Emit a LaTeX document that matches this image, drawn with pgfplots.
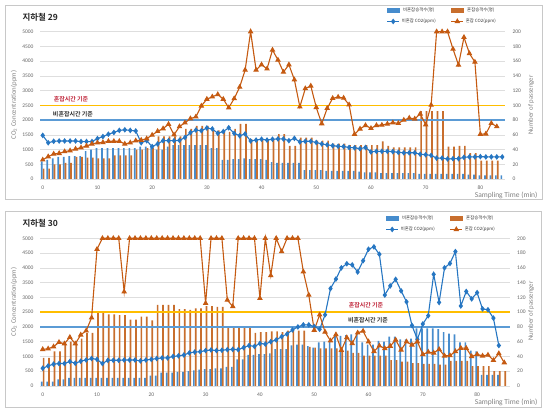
\documentclass[border=0pt]{standalone}
\usepackage{pgfplots}
\pgfplotsset{compat=1.18}
\usepackage{pgfplotstable}
\usepackage{fontspec}
\setmainfont{Carlito}
\newfontfamily\kr{Noto Sans CJK KR}[BoldFont={Noto Sans CJK KR Bold}]
\definecolor{lnblue}{RGB}{38,118,194}
\definecolor{lnorange}{RGB}{197,90,17}
\definecolor{barblue}{RGB}{70,140,205}
\definecolor{barorange}{RGB}{200,110,45}
\definecolor{refyellow}{RGB}{255,190,0}
\definecolor{refblue}{RGB}{91,155,213}
\definecolor{gridgray}{RGB}{222,222,222}
\definecolor{ticklab}{RGB}{100,100,100}
\definecolor{labgray}{RGB}{128,128,128}
\definecolor{framegray}{RGB}{200,200,200}
\definecolor{annred}{RGB}{192,40,60}
\definecolor{anndark}{RGB}{50,50,50}

\pgfplotstableread{
t nb cb nc cc
0 24 14 1480 650
1 26 14 1230 760
2 28 20 1280 850
3 30 20 1290 870
4 30 22 1290 930
5 31 22 1290 960
6 31 30 1290 1020
7 31 30 1270 1060
8 38 29 1270 1120
9 40 29 1270 1190
10 42 28 1370 1230
11 42 28 1440 1240
12 42 28 1520 1280
13 42 32 1580 1280
14 42 32 1650 1280
15 42 32 1670 1190
16 42 32 1650 1230
17 42 40 1630 1300
18 44 40 1230 1320
19 44 42 1300 1370
20 44 42 1100 1490
21 40 58 1190 1620
22 40 58 1300 1710
23 44 58 1300 1860
24 46 58 1300 1500
25 46 58 1310 1780
26 46 68 1410 1910
27 46 68 1570 2050
28 46 72 1660 2110
29 46 72 1640 2480
30 46 72 1730 2710
31 42 66 1700 2790
32 42 66 1550 2870
33 26 64 1610 2710
34 26 64 1740 2420
35 27 68 1550 2730
36 27 75 1470 3120
37 28 75 1530 3700
38 27 54 1290 5000
39 27 54 1320 3700
40 27 54 1350 3880
41 26 54 1320 3740
42 23 54 1350 4380
43 22 61 1360 4040
44 22 61 1360 3630
45 22 45 1300 3880
46 22 45 1380 3370
47 22 56 1260 2450
48 12 56 1280 3070
49 12 56 1280 3160
50 12 52 1240 2430
51 12 52 1190 1880
52 11 52 1160 2400
53 11 48 1130 2740
54 11 48 1110 2780
55 11 48 1100 2750
56 11 46 1070 2520
57 11 46 1060 1520
58 10 46 1030 1700
59 9 46 1070 1820
60 9 46 920 1720
61 9 46 940 1820
62 8 51 940 1830
63 8 45 940 1870
64 8 43 930 1910
65 8 43 905 1890
66 8 43 890 2000
67 8 43 890 2070
68 8 43 890 2040
69 7 92 840 2210
70 7 92 825 1840
71 7 92 800 2510
72 7 92 710 5000
73 7 92 710 5000
74 7 44 680 5000
75 7 44 690 4410
76 7 45 690 3870
77 7 45 735 4810
78 6 35 750 4260
79 6 35 750 3970
80 5 25 760 1520
81 5 25 750 1530
82 5 25 750 1890
83 5 25 750 1780
84 5 nan 750 nan
}\topdata

\pgfplotstableread{
t nb cb nc cc
0 6 38 600 1240
1 6 38 680 1260
2 6 47 740 1330
3 9 47 760 1480
4 9 56 760 1430
5 11 60 830 1650
6 11 60 770 1430
7 11 64 840 1730
8 11 72 880 1870
9 11 72 930 2310
10 11 100 900 4630
11 11 100 760 5000
12 11 97 870 5000
13 11 97 870 5000
14 11 96 870 5000
15 11 96 880 3190
16 11 90 880 5000
17 11 90 880 5000
18 11 94 850 5000
19 11 94 880 5000
20 14 89 900 5000
21 14 110 930 5000
22 18 110 950 5000
23 18 110 950 5000
24 18 110 1000 5000
25 19 104 1020 5000
26 19 104 1050 5000
27 20 103 1120 5000
28 21 105 1150 5000
29 22 105 1160 5000
30 23 108 1200 2800
31 23 108 1220 5000
32 24 107 1200 5000
33 24 107 1210 5000
34 26 80 1230 2910
35 26 80 1240 2690
36 36 80 1230 5000
37 36 80 1300 5000
38 42 80 1370 5000
39 42 72 1340 5000
40 43 73 1440 2970
41 43 73 1420 5000
42 44 74 1500 3740
43 50 74 1560 5000
44 50 73 1670 4550
45 50 75 1760 5000
46 55 75 1900 5000
47 56 75 2000 5000
48 56 75 2070 3870
49 54 53 2070 3080
50 52 52 2010 1890
51 59 51 1920 2410
52 60 51 2410 1830
53 62 51 3300 1530
54 68 51 3620 1740
55 68 48 4000 1210
56 69 48 4140 1640
57 70 45 4100 1440
58 72 45 3860 1800
59 59 41 4240 1860
60 56 41 4630 1500
61 56 41 4710 1170
62 61 41 4460 1360
63 60 41 3080 1270
64 67 35 3390 1350
65 67 35 3610 1560
66 63 33 3220 1220
67 63 33 2850 1500
68 64 31 2050 1390
69 78 31 1580 1500
70 78 30 2100 1070
71 78 30 2380 1150
72 78 30 3780 1120
73 77 29 2830 1240
74 73 29 4000 1020
75 71 34 4150 1030
76 70 34 4550 1170
77 59 34 2710 1280
78 59 34 3200 1280
79 48 27 2950 1000
80 47 27 3160 1070
81 15 27 2610 1020
82 15 27 2580 1050
83 15 20 2300 870
84 15 20 1370 1100
85 nan 20 nan 790
}\botdata

\pgfplotsset{
  barax/.style={
    scale only axis, xmin=-0.5,
    ymin=0, ymax=200, ytick={0,20,...,200},
    axis y line*=right, axis x line*=bottom,
    axis line style={draw=none},
    major tick length=0pt,
    ymajorgrids, grid style={gridgray, line width=0.6pt},
    xtick={0,10,...,80},
    tick label style={font=\fontsize{5.5}{6.5}\selectfont, text=ticklab},
    /pgf/number format/assume math mode=true,
    /pgf/number format/1000 sep={},
    yticklabel style={xshift=4pt},
    xticklabel style={yshift=-3.5pt},
  },
  lineax/.style={
    scale only axis, xmin=-0.5,
    ymin=0, ymax=5000, ytick={0,500,...,5000},
    axis y line*=left, hide x axis,
    axis line style={draw=none},
    major tick length=0pt,
    clip=false,
    tick label style={font=\fontsize{5.5}{6.5}\selectfont, text=ticklab},
    /pgf/number format/assume math mode=true,
    /pgf/number format/1000 sep={},
    yticklabel style={xshift=-3pt},
    legend columns=2,
    legend style={draw=none, fill=none, font=\kr\fontsize{4.4}{5}\selectfont, text=anndark,
      /tikz/every even column/.append style={column sep=13pt}, row sep=2pt, inner sep=0pt},
    legend image code/.code={\draw[mark repeat=2,mark phase=2,##1] plot coordinates {(0pt,0pt) (6pt,0pt) (12pt,0pt)};},
  },
  bluebarleg/.style={legend image code/.code={\fill[barblue] (0pt,-1.6pt) rectangle (12pt,1.6pt);}},
  orangebarleg/.style={legend image code/.code={\fill[barorange] (0pt,-1.6pt) rectangle (12pt,1.6pt);}},
  blueln/.style={lnblue, line width=1.1pt, mark=diamond*, mark size=2pt, mark options={solid, fill=lnblue}},
  orangeln/.style={lnorange, line width=1.1pt, mark=triangle*, mark size=2.2pt, mark options={solid, fill=lnorange}},
}

\begin{document}
\begin{tikzpicture}
\path[use as bounding box] (0pt,0pt) rectangle (550pt,414pt);
\draw[framegray, line width=0.8pt] (5pt,215pt) rectangle (542pt,409pt);
\draw[framegray, line width=0.8pt] (5pt,7pt) rectangle (541pt,203pt);

% ---------- top panel ----------
\begin{axis}[barax, at={(40pt,235pt)}, anchor=south west, width=465pt, height=147.3pt, xmax=84.5]
\addplot[ybar, bar width=1.7pt, bar shift=-0.9pt, fill=barblue, draw=none] table[x=t,y=nb]{\topdata};
\addplot[ybar, bar width=1.7pt, bar shift=0.9pt, fill=barorange, draw=none] table[x=t,y=cb]{\topdata};
\end{axis}
\begin{axis}[lineax, at={(40pt,235pt)}, anchor=south west, width=465pt, height=147.3pt, xmax=84.5,
  legend style={at={(0.985,1.178)}, anchor=north east}]
\addplot[forget plot, refyellow, line width=1.6pt] coordinates {(-0.5,2500) (84.5,2500)};
\addplot[forget plot, refblue, line width=1.5pt] coordinates {(-0.5,2000) (84.5,2000)};
\addlegendimage{bluebarleg}\addlegendentry{비혼잡승객수(명)}
\addlegendimage{orangebarleg}\addlegendentry{혼잡승객수(명)}
\addplot[blueln] table[x=t,y=nc]{\topdata};\addlegendentry{비혼잡 CO2(ppm)}
\addplot[orangeln] table[x=t,y=cc]{\topdata};\addlegendentry{혼잡 CO2(ppm)}
\end{axis}
\node[anchor=west, font=\kr\bfseries\fontsize{8.5}{10}\selectfont, text=black!85] at (19pt,397pt) {지하철 29};
\node[rotate=90, font=\fontsize{6.8}{8}\selectfont, text=labgray] at (14pt,309pt) {CO\textsubscript{2} Concentration(ppm)};
\node[rotate=90, font=\fontsize{6.8}{8}\selectfont, text=labgray] at (531pt,309pt) {Number of passenger};
\node[anchor=east, font=\fontsize{7.5}{9}\selectfont, text=labgray] at (541pt,219pt) {Sampling Time (min)};
\node[font=\kr\bfseries\fontsize{6}{7}\selectfont, text=annred] at (71pt,315pt) {혼잡시간 기준};
\node[font=\kr\bfseries\fontsize{6}{7}\selectfont, text=anndark] at (73pt,299.7pt) {비혼잡시간 기준};

% ---------- bottom panel ----------
\begin{axis}[barax, at={(40pt,28pt)}, anchor=south west, width=469.7pt, height=147.7pt, xmax=86]
\addplot[ybar, bar width=1.7pt, bar shift=-0.9pt, fill=barblue, draw=none] table[x=t,y=nb]{\botdata};
\addplot[ybar, bar width=1.7pt, bar shift=0.9pt, fill=barorange, draw=none] table[x=t,y=cb]{\botdata};
\end{axis}
\begin{axis}[lineax, at={(40pt,28pt)}, anchor=south west, width=469.7pt, height=147.7pt, xmax=86,
  legend style={at={(0.973,1.168)}, anchor=north east}]
\addplot[forget plot, refyellow, line width=1.6pt] coordinates {(-0.5,2500) (86,2500)};
\addplot[forget plot, refblue, line width=1.5pt] coordinates {(-0.5,2000) (86,2000)};
\addlegendimage{bluebarleg}\addlegendentry{비혼잡승객수(명)}
\addlegendimage{orangebarleg}\addlegendentry{혼잡승객수(명)}
\addplot[blueln] table[x=t,y=nc]{\botdata};\addlegendentry{비혼잡 CO2(ppm)}
\addplot[orangeln] table[x=t,y=cc]{\botdata};\addlegendentry{혼잡 CO2(ppm)}
\end{axis}
\node[anchor=west, font=\kr\bfseries\fontsize{8.5}{10}\selectfont, text=black!85] at (19pt,191pt) {지하철 30};
\node[rotate=90, font=\fontsize{6.8}{8}\selectfont, text=labgray] at (14pt,112pt) {CO\textsubscript{2} Concentration(ppm)};
\node[rotate=90, font=\fontsize{6.8}{8}\selectfont, text=labgray] at (531pt,103pt) {Number of passenger};
\node[anchor=east, font=\fontsize{7.5}{9}\selectfont, text=labgray] at (541pt,12pt) {Sampling Time (min)};
\node[font=\kr\bfseries\fontsize{6}{7}\selectfont, text=annred] at (366pt,109pt) {혼잡시간 기준};
\node[font=\kr\bfseries\fontsize{6}{7}\selectfont, text=anndark] at (368pt,93.7pt) {비혼잡시간 기준};
\end{tikzpicture}
\end{document}
